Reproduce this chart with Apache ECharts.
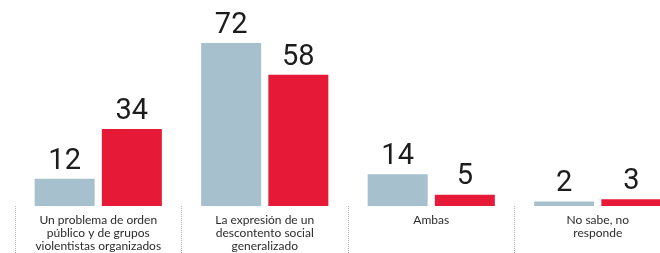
<!DOCTYPE html>
<html>
<head>
<meta charset="utf-8">
<script src="https://cdn.jsdelivr.net/npm/echarts@6/dist/echarts.min.js"></script>
<style>
  html, body { margin: 0; padding: 0; background: #fff; }
  #main { width: 660px; height: 253px; }
</style>
</head>
<body>
<div id="main"></div>
<script>
// categorias y valores (%)
var categories = [
  "Un problema de orden\npúblico y de grupos\nviolentistas organizados",
  "La expresión de un\ndescontento social\ngeneralizado",
  "Ambas",
  "No sabe, no\nresponde"
];
var serieA = [12, 72, 14, 2];
var serieB = [34, 58, 5, 3];

var myChart = echarts.init(document.getElementById("main"));

var labelStyle = {
  show: true,
  position: "top",
  distance: 3,
  color: "#1c1c1c",
  fontSize: 29,
  fontWeight: 400,
  fontFamily: "Roboto"
};

var option = {
  animation: false,
  // la ultima categoria queda cortada por el borde derecho
  grid: {
    left: 15,
    width: 666,
    top: 25,
    bottom: 47,
    containLabel: false,
    outerBoundsMode: "none"
  },
  xAxis: {
    type: "category",
    data: categories,
    axisLine: { show: false },
    axisTick: {
      show: true,
      inside: false,
      length: 47,
      lineStyle: { color: "#b5b5b5", type: "dotted", width: 1 }
    },
    axisLabel: {
      margin: 8,
      color: "#2b2b2b",
      fontSize: 12,
      lineHeight: 13,
      fontFamily: "Lato, sans-serif",
      interval: 0
    }
  },
  yAxis: {
    type: "value",
    min: 0,
    max: 80,
    show: false,
    splitLine: { show: false }
  },
  series: [
    {
      name: "A",
      type: "bar",
      data: serieA,
      barWidth: 60,
      barGap: "12%",
      itemStyle: { color: "#a6c0cd" },
      label: labelStyle
    },
    {
      name: "B",
      type: "bar",
      data: serieB,
      barWidth: 60,
      itemStyle: { color: "#e61a37" },
      label: labelStyle
    }
  ]
};

myChart.setOption(option);
</script>
</body>
</html>
